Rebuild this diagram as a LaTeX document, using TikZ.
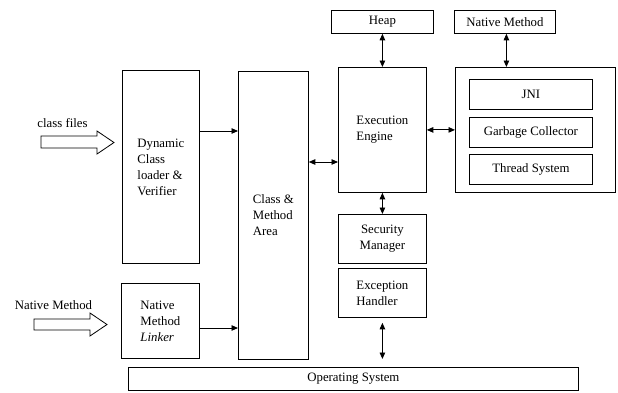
\documentclass[tikz,border=0pt]{standalone}
\usepackage{fontspec}
\setmainfont{Liberation Serif}
\usetikzlibrary{arrows.meta,calc}
\begin{document}
\begin{tikzpicture}[x=1pt,y=-1pt,
  box/.style={draw, line width=0.8pt, inner sep=0pt, align=center, font=\fontsize{12.8}{16}\selectfont, anchor=north west},
  lbox/.style={box, align=left},
  blockarrow/.style={draw, line width=0.8pt},
  conn/.style={line width=0.9pt, -{Triangle[length=6.5pt,width=5.5pt]}},
  dconn/.style={line width=0.9pt, {Triangle[length=6.5pt,width=5.5pt]}-{Triangle[length=6.5pt,width=5.5pt]}},
  lbl/.style={font=\fontsize{12.8}{16}\selectfont, inner sep=0pt}]
\useasboundingbox (0,0) rectangle (618,392);
\node[lbox, minimum width=77pt, minimum height=193pt] (dyn) at (122,70) {Dynamic\\Class\\loader \&\\Verifier};
\node[lbox, minimum width=70pt, minimum height=288pt] (cma) at (238,71) {Class \&\\Method\\Area};
\node[lbox, minimum width=78pt, minimum height=75pt] (nml) at (121,283) {Native\\Method\\\textit{Linker}};
\node[box, minimum width=102pt, minimum height=23pt] (heap) at (331,10) {Heap};
\node[box, minimum width=101pt, minimum height=23pt] (nmt) at (454,10) {Native Method};
\node[lbox, minimum width=88pt, minimum height=125pt] (exe) at (338,67) {Execution\\Engine};
\node[box, minimum width=160pt, minimum height=125pt] (rt) at (455,67) {};
\node[box, minimum width=123pt, minimum height=30pt] (jni) at (469,79) {JNI};
\node[box, minimum width=123pt, minimum height=30pt] (gc) at (469,117) {Garbage Collector};
\node[box, minimum width=123pt, minimum height=30pt] (ts) at (469,154) {Thread System};
\node[box, minimum width=88pt, minimum height=49pt] (sec) at (338,214) {Security\\Manager};
\node[lbox, minimum width=88pt, minimum height=49pt] (exc) at (338,268) {Exception\\Handler};
\node[box, minimum width=450pt, minimum height=23pt] (os) at (128,367) {Operating System};
\node[lbl] (cf) at (62.5,123) {class files};
\node[lbl] (nmlbl) at (53.5,305) {Native Method};
\coordinate (ya) at (0,131);
\coordinate (yb) at (0,328);
\coordinate (yc) at (0,162);
\draw[conn] (dyn.east |- ya) -- (cma.west |- ya);
\draw[conn] (nml.east |- yb) -- (cma.west |- yb);
\draw[dconn] (cma.east |- yc) -- (exe.west |- yc);
\draw[dconn] (heap.south) -- (exe.north);
\draw[dconn] ($(nmt.south)+(1.5,0)$) -- ($(nmt.south |- rt.north)+(1.5,0)$);
\draw[dconn] (exe.east) -- (rt.west);
\draw[dconn] (exe.south) -- (sec.north);
\draw[dconn, shorten <=5pt, shorten >=8pt] (exc.south) -- (exc.south |- os.north);
\draw[blockarrow] (41,136) -- (97,136) -- (97,131) -- (114,142.5) -- (97,154) -- (97,148) -- (41,148) -- cycle;
\draw[blockarrow] (34,319) -- (90,319) -- (90,313) -- (107,324.5) -- (90,336) -- (90,330) -- (34,330) -- cycle;
\end{tikzpicture}
\end{document}
